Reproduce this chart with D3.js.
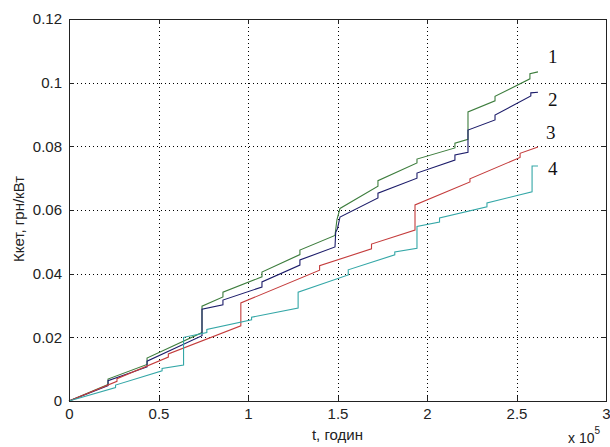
<!DOCTYPE html>
<html>
<head>
<meta charset="utf-8">
<style>
  body { margin: 0; background: #fff; }
  svg text { font-family: 'Liberation Sans', Arial, sans-serif; fill: #222; }
  .axis path, .axis line { stroke: #222; shape-rendering: crispEdges; }
  .axis text { font-size: 15px; }
  .grid line { stroke: #000; stroke-dasharray: 1,3; shape-rendering: crispEdges; }
  .series { fill: none; stroke-width: 1.1; }
  .num { font-family: 'Liberation Serif', 'Times New Roman', serif; font-size: 19px; fill: #111; }
</style>
</head>
<body>
<div id="chart"></div>
<script src="https://cdnjs.cloudflare.com/ajax/libs/d3/7.8.5/d3.min.js"></script>
<script>
// t in units of 1e5 hours, value in grn/kW
var xTicks = [0, 0.5, 1, 1.5, 2, 2.5, 3];
var yTicks = [0, 0.02, 0.04, 0.06, 0.08, 0.1, 0.12];
var seriesNames = ["1", "2", "3", "4"];

var series1 = [[0,0],[0.218,0.0052],[0.218,0.0069],[0.436,0.0115],[0.436,0.0135],[0.743,0.0215],[0.743,0.0298],
  [0.86,0.0327],[0.86,0.0342],[1.078,0.039],[1.078,0.0405],[1.29,0.046],[1.29,0.0474],[1.486,0.052],[1.497,0.057],
  [1.514,0.0605],[1.726,0.0675],[1.726,0.0692],[1.944,0.0748],[1.944,0.076],[2.156,0.0795],[2.156,0.081],
  [2.229,0.0822],[2.229,0.0908],[2.38,0.0943],[2.38,0.0957],[2.575,0.1012],[2.575,0.1028],[2.62,0.1034]];

var series2 = [[0,0],[0.218,0.0048],[0.218,0.0064],[0.436,0.0107],[0.436,0.0125],[0.743,0.0205],[0.743,0.0288],
  [0.86,0.0302],[0.86,0.0317],[1.078,0.0358],[1.078,0.0374],[1.29,0.0427],[1.29,0.0443],[1.486,0.0484],[1.49,0.053],
  [1.5,0.0542],[1.514,0.0578],[1.726,0.0638],[1.726,0.0653],[1.944,0.070],[1.944,0.0716],[2.156,0.0757],
  [2.156,0.0773],[2.229,0.0781],[2.229,0.0851],[2.38,0.0883],[2.38,0.0898],[2.58,0.0958],[2.58,0.0968],[2.62,0.097]];

var series3 = [[0,0],[0.268,0.0062],[0.268,0.0070],[0.555,0.0138],[0.555,0.0148],[0.96,0.0236],[0.96,0.0308],
  [1.4,0.0411],[1.4,0.0425],[1.69,0.0478],[1.69,0.0493],[1.933,0.0537],[1.933,0.0616],[2.24,0.0688],
  [2.24,0.0698],[2.52,0.0765],[2.52,0.0778],[2.62,0.0798]];

var series4 = [[0,0],[0.26,0.0042],[0.26,0.0050],[0.52,0.0095],[0.52,0.0102],[0.64,0.0113],[0.64,0.0200],
  [0.77,0.0215],[0.77,0.0225],[1.02,0.0255],[1.02,0.0263],[1.28,0.0292],[1.28,0.0342],[1.56,0.0396],
  [1.56,0.0412],[1.82,0.0459],[1.82,0.0468],[1.944,0.0480],[1.944,0.0548],[2.07,0.0562],[2.07,0.0575],
  [2.335,0.0610],[2.335,0.0622],[2.587,0.0657],[2.587,0.0738],[2.62,0.0738]];

var allSeries = [series1, series2, series3, series4];
var colors = ["#3d7d3d", "#1c1c6a", "#c43c3c", "#34a7a7"];
var labelPos = [[548, 63], [548, 106], [546, 139], [548, 175]];

var width = 610, height = 447;
var margin = {top: 19, right: 4, bottom: 46, left: 69};
var w = width - margin.left - margin.right,
    h = height - margin.top - margin.bottom;

var svg = d3.select("#chart").append("svg")
  .attr("width", width)
  .attr("height", height);

var g = svg.append("g").attr("transform", "translate(" + margin.left + "," + margin.top + ")");

var x = d3.scaleLinear().domain([0, 3]).range([0, w]);
var y = d3.scaleLinear().domain([0, 0.12]).range([h, 0]);

// dotted grid
var grid = g.append("g").attr("class", "grid");
grid.selectAll(".gx").data(xTicks.slice(1, -1)).enter().append("line")
  .attr("x1", function(d) { return Math.round(x(d)) + 0.5; })
  .attr("x2", function(d) { return Math.round(x(d)) + 0.5; })
  .attr("y1", 0).attr("y2", h);
grid.selectAll(".gy").data(yTicks.slice(1, -1)).enter().append("line")
  .attr("y1", function(d) { return Math.round(y(d)) + 0.5; })
  .attr("y2", function(d) { return Math.round(y(d)) + 0.5; })
  .attr("x1", 0).attr("x2", w);

var line = d3.line()
  .x(function(d) { return x(d[0]); })
  .y(function(d) { return y(d[1]); });

g.selectAll(".series").data(allSeries).enter().append("path")
  .attr("class", "series")
  .attr("stroke", function(d, i) { return colors[i]; })
  .attr("d", line);

var fmt = function(d) { return String(d); };

g.append("g").attr("class", "axis")
  .attr("transform", "translate(0," + h + ")")
  .call(d3.axisBottom(x).tickValues(xTicks).tickFormat(fmt).tickSize(-5).tickSizeOuter(0).tickPadding(7));
g.append("g").attr("class", "axis")
  .call(d3.axisLeft(y).tickValues(yTicks).tickFormat(fmt).tickSize(-5).tickSizeOuter(0).tickPadding(7));
g.append("g").attr("class", "axis")
  .call(d3.axisTop(x).tickValues(xTicks).tickFormat("").tickSize(-5).tickSizeOuter(0));
g.append("g").attr("class", "axis")
  .attr("transform", "translate(" + w + ",0)")
  .call(d3.axisRight(y).tickValues(yTicks).tickFormat("").tickSize(-5).tickSizeOuter(0));

g.selectAll(".axis text").attr("fill", "#222");

// series numbers
svg.selectAll(".num").data(seriesNames).enter().append("text")
  .attr("class", "num")
  .attr("x", function(d, i) { return labelPos[i][0]; })
  .attr("y", function(d, i) { return labelPos[i][1]; })
  .text(function(d) { return d; });

// axis titles
svg.append("text")
  .attr("x", margin.left + w / 2)
  .attr("y", 440)
  .attr("text-anchor", "middle")
  .style("font-size", "15px")
  .text("t, годин");

svg.append("text")
  .attr("transform", "translate(24,219) rotate(-90)")
  .attr("text-anchor", "middle")
  .style("font-size", "15px")
  .text("Ккет, грн/кВт");

var mult = svg.append("text").attr("x", 568).attr("y", 443).style("font-size", "14px");
mult.append("tspan").text("x 10");
mult.append("tspan").attr("dy", -9).style("font-size", "10px").text("5");
</script>
</body>
</html>
